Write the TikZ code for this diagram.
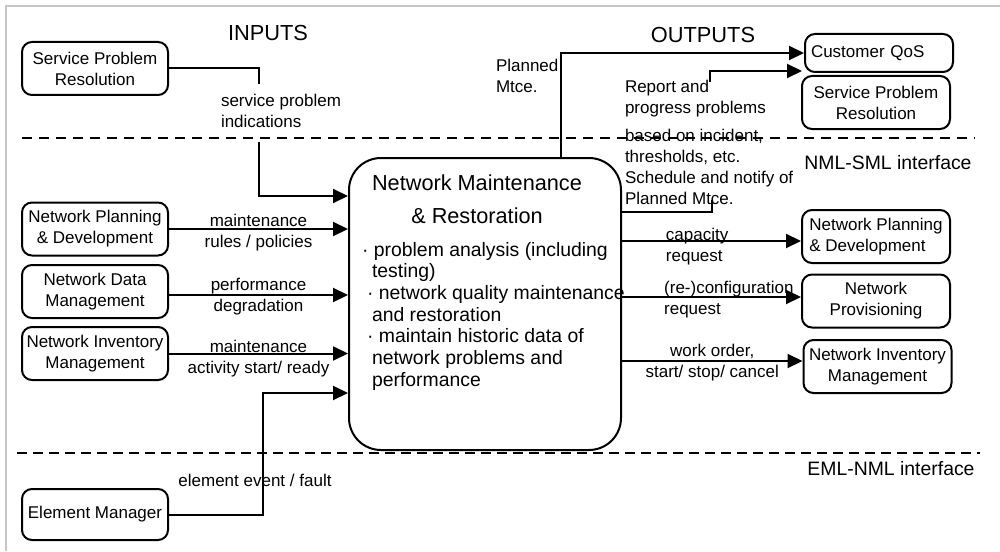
\documentclass[tikz,border=0pt]{standalone}
\usepackage{fontspec}
\setmainfont{Liberation Sans}
\usetikzlibrary{shapes,arrows.meta,positioning}

\newcommand\lbltext{\fontsize{8.5}{10.5}\selectfont}
\newcommand\headtext{\fontsize{10.9}{13}\selectfont}
\newcommand\titletext{\fontsize{10.85}{16.5}\selectfont}
\newcommand\bodytext{\fontsize{9.7}{10.85}\selectfont}

\begin{document}
\begin{tikzpicture}[%
    x=0.5pt, y=-0.5pt,          % one unit is one pixel of the sketch, y runs down
    >={Triangle[length=7.5pt,width=7pt]}, % Solid heads everywhere
    node distance=32pt and 20pt, % Global setup of box spacing
    line width=1pt,
    ]
% -------------------------------------------------
% Box, label and line styles
\tikzset{
  base/.style={draw, on grid, align=center, inner sep=1pt, font=\lbltext},
  box/.style={base, rounded corners=5pt, minimum width=73pt, minimum height=26.5pt},
  outbox/.style={box, minimum width=74pt},
  bigbox/.style={draw, rounded corners=16pt, minimum width=136pt, minimum height=146pt},
  lbl/.style={font=\lbltext, align=center, inner sep=0pt},
  head/.style={font=\headtext, inner sep=0pt},
  iface/.style={font=\bodytext, inner sep=0pt},
  arr/.style={->, draw},
  line/.style={draw},
  sep/.style={draw, dash pattern=on 5pt off 3.5pt},
}
\useasboundingbox (0,0) rectangle (1000,551);
\draw[gray!45, line width=1.2pt] (6,551) -- (6,6) -- (1000,6);

% -------------------------------------------------
% Interfaces and headings
\draw[sep] (22,138) -- (975,138);            % NML-SML
\draw[sep, dash pattern=on 5pt off 3pt] (17,453) -- (980,453); % EML-NML
\node[head] (inputs) at (268,33) {INPUTS};
\node[head] (outputs) at (703,35) {OUTPUTS};
\node[iface] (nsl) at (888,163) {NML-SML interface};
\node[iface] (enl) at (891,469) {EML-NML interface};

% -------------------------------------------------
% The central process
\node[bigbox] (nmr) at (485,304) {};
\node[font=\titletext, align=center, inner sep=0pt] (nmr_title) at (477,199)
  {Network Maintenance\\\& Restoration};
\node[font=\bodytext, align=left, inner sep=0pt, anchor=north west] (nmr_body) at (361,241)
  {· problem analysis (including\\
   \hspace*{5pt}testing)\\
   \hspace*{2.5pt}· network quality maintenance\\
   \hspace*{5pt}and restoration\\
   \hspace*{2.5pt}· maintain historic data of\\
   \hspace*{5pt}network problems and\\
   \hspace*{5pt}performance};

% -------------------------------------------------
% Inputs on the left
\node[box] (spr_in) at (95,68.5) {Service Problem\\Resolution};
\node[box] (npd_in) at (95,229) {Network Planning\\\& Development};
\node[box, below=31.25pt of npd_in] (ndm_in) {Network Data\\Management};
\node[box, below=31pt of ndm_in] (nim_in) {Network Inventory\\Management};
\node[box, minimum height=25.5pt] (em) at (95,514.5) {Element Manager};

% Outputs on the right
\node[outbox, minimum height=19pt, align=left, text width=68pt] (cqos) at (879,53) {Customer QoS};
\node[outbox] (spr_out) at (876,102.5) {Service Problem\\Resolution};
\node[outbox, align=left] (npd_out) at (876,236.5) {Network Planning\\\& Development};
\node[outbox, below=32.25pt of npd_out] (np_out) {Network\\Provisioning};
\node[outbox, below=32.75pt of np_out, xshift=0.75pt] (nim_out) {Network Inventory\\Management};

% -------------------------------------------------
% Connectors in
\coordinate (spi_stop) at (259,84);
\coordinate (spi_go) at (259,142);
\draw[line] (spr_in.east) -| (spi_stop);
\draw[arr] (spi_go) |- ([yshift=54pt]nmr.west);
\node[lbl, align=left, anchor=west] (spi_lbl) at (220,111) {service problem\\indications};

\draw[arr] (npd_in.east) -- (npd_in.east -| nmr.west)
  node[lbl, midway, yshift=-2pt] {maintenance\\rules / policies};
\draw[arr] ([yshift=-1.75pt]ndm_in.east) -- ([yshift=-1.75pt]ndm_in.east -| nmr.west)
  node[lbl, midway, yshift=-1pt] {performance\\degradation};
\draw[arr] (nim_in.east) -- (nim_in.east -| nmr.west)
  node[lbl, midway, yshift=-2.5pt] {maintenance\\activity start/ ready};

\coordinate (ee_bend) at (263,393);
\draw[arr] (em.east) -| (ee_bend) -- (ee_bend -| nmr.west);
\node[lbl] (ee_lbl) at (255,480) {element event / fault};

% Connectors out
\coordinate (pm_x) at (561,0);
\draw[arr] (nmr.north -| pm_x) |- (cqos.west);
\node[lbl, align=left, anchor=north west] (pm_lbl) at (495,58) {Planned\\Mtce.};

\coordinate (rep_foot) at (712,212);
\coordinate (rep_stop) at (712,200);
\draw[line] (nmr.east |- rep_foot) -- (rep_foot) -- (rep_stop);
\coordinate (rep_go) at (710,82);
\coordinate (rep_tip) at (802,71);
\draw[arr] (rep_go) |- (rep_tip);
\node[lbl, align=left, anchor=north west] (rep_lbl) at (624,79)
  {Report and\\progress problems\\[3.5pt]based on incident,\\thresholds, etc.\\Schedule and notify of\\Planned Mtce.};

\draw[arr] ([yshift=-2.25pt]npd_out.west -| nmr.east) -- ([yshift=-2.25pt]npd_out.west)
  node[lbl, align=left, anchor=west, pos=0.24, yshift=-2.75pt] {capacity\\request};
\draw[arr] ([yshift=2pt]np_out.west -| nmr.east) -- ([yshift=2pt]np_out.west)
  node[lbl, align=left, anchor=west, pos=0.23, yshift=-1.5pt] {(re-)configuration\\request};
\draw[arr] ([yshift=2.75pt]nim_out.west -| nmr.east) -- ([yshift=2.75pt]nim_out.west)
  node[lbl, midway, yshift=-0.75pt] {work order,\\start/ stop/ cancel};

% -------------------------------------------------
\end{tikzpicture}
\end{document}
